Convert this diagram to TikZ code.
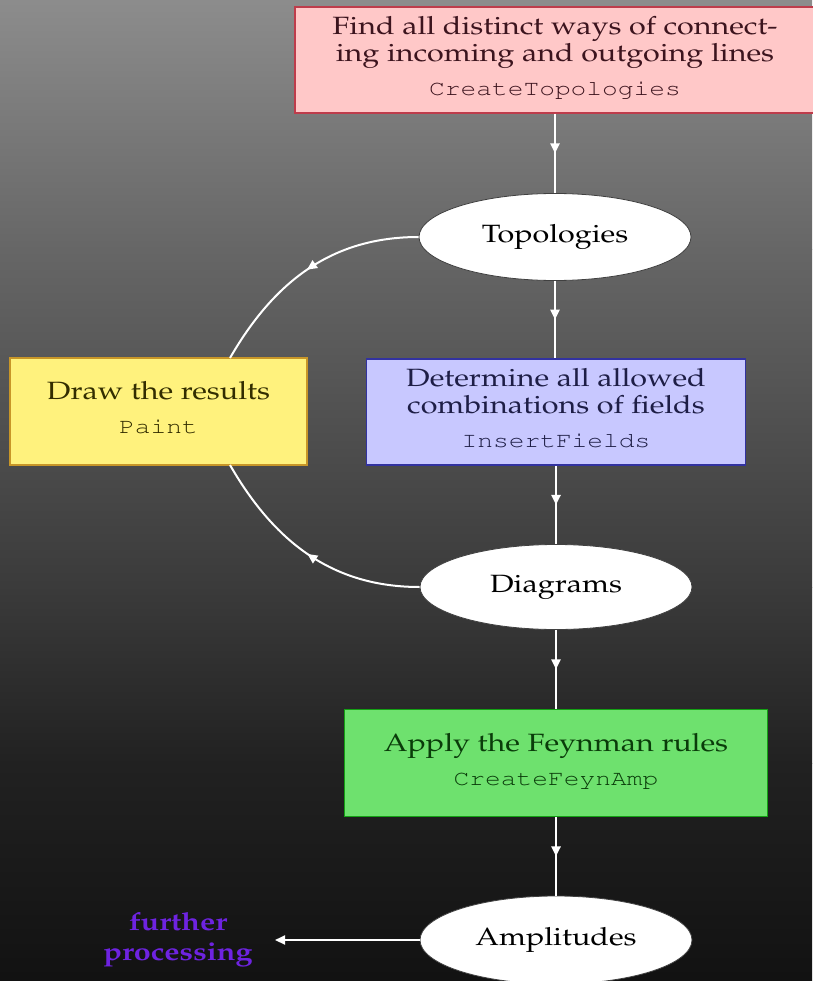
\documentclass[tikz,border=0pt]{standalone}
\usepackage[T1]{fontenc}
\renewcommand{\rmdefault}{ppl}
\renewcommand{\ttdefault}{pcr}
\usepackage{graphicx}
\usetikzlibrary{arrows.meta,decorations.markings,shapes.geometric}
\definecolor{pinkfill}{RGB}{255,200,200}
\definecolor{pinkdraw}{RGB}{190,60,75}
\definecolor{pinktext}{RGB}{60,20,30}
\definecolor{bluefill}{RGB}{200,200,255}
\definecolor{bluedraw}{RGB}{50,50,160}
\definecolor{bluetext}{RGB}{30,30,70}
\definecolor{yellowfill}{RGB}{255,242,125}
\definecolor{yellowdraw}{RGB}{200,150,40}
\definecolor{yellowtext}{RGB}{50,45,0}
\definecolor{greenfill}{RGB}{110,225,110}
\definecolor{greendraw}{RGB}{20,160,20}
\definecolor{greentext}{RGB}{10,60,10}
\definecolor{furthercol}{RGB}{110,35,225}
\newcommand{\boxtext}[2]{\scalebox{1.22}[1]{\begin{tabular}{@{}c@{}}#1\\[7pt]{\fontsize{21.5}{24}\selectfont\ttfamily #2}\end{tabular}}}
\newcommand{\elltext}[1]{\scalebox{1.22}[1]{#1}}
\begin{document}
\begin{tikzpicture}[x=1pt,y=1pt,
  stepbox/.style={rectangle, inner sep=0pt, line width=1.5pt, font=\fontsize{25}{27}\selectfont},
  ellnode/.style={ellipse, fill=white, draw=black!75, line width=0.8pt, inner sep=0pt,
    minimum width=272pt, minimum height=87pt, font=\fontsize{25}{27}\selectfont},
  midarrow/.style={postaction={decorate}, decoration={markings,
    mark=at position 0.5 with {\arrow[white]{Triangle[length=10pt,width=9pt]}}}},
  flow/.style={draw=white, line width=2.5pt, midarrow},
  loopflow/.style={draw=white, line width=2pt, midarrow},
]
\useasboundingbox (0,0) rectangle (812,-981);
% background gradient
\shade[top color=black!45, bottom color=black!60] (0,0) rectangle (812,-250);
\shade[top color=black!60, bottom color=black!77] (0,-250) rectangle (812,-587);
\shade[top color=black!77, bottom color=black!87] (0,-587) rectangle (812,-763);
\shade[top color=black!87, bottom color=black!93] (0,-763) rectangle (812,-981);

% nodes
\node[stepbox, fill=pinkfill, draw=pinkdraw, text=pinktext, minimum width=520pt, minimum height=106pt]
  (ct) at (555,-60) {\boxtext{Find all distinct ways of connect-\\ing incoming and outgoing lines}{CreateTopologies}};
\node[ellnode] (topo) at (555,-237) {\elltext{Topologies}};
\node[stepbox, fill=bluefill, draw=bluedraw, text=bluetext, minimum width=379pt, minimum height=106pt]
  (ins) at (556,-412) {\boxtext{Determine all allowed\\combinations of fields}{InsertFields}};
\node[ellnode, minimum height=85pt] (diag) at (556,-587) {\elltext{Diagrams}};
\node[stepbox, fill=greenfill, draw=greendraw, text=greentext, minimum width=423pt, minimum height=107pt]
  (feyn) at (556,-763) {\boxtext{Apply the Feynman rules}{CreateFeynAmp}};
\node[ellnode, minimum height=88pt] (amp) at (556,-940) {\elltext{Amplitudes}};
\node[stepbox, fill=yellowfill, draw=yellowdraw, text=yellowtext, minimum width=297pt, minimum height=107pt]
  (paint) at (158.5,-411.5) {\boxtext{Draw the results}{Paint}};
\node[font=\fontsize{25}{30}\selectfont\bfseries, text=furthercol, align=center, inner sep=0pt]
  (fp) at (178,-940) {\elltext{further}\\\elltext{processing}};

\coordinate (ptop) at (230,-358);
\coordinate (pbot) at (230,-465);
\coordinate (fpend) at (275,-940);

% connectors
\draw[flow] (ct.south -| topo.north) -- (topo.north);
\draw[flow] (topo.south) -- (ins.north -| topo.south);
\draw[flow] (ins.south) -- (diag.north);
\draw[flow] (diag.south) -- (feyn.north);
\draw[flow] (feyn.south) -- (amp.north);
\draw[loopflow] (topo.west) to[out=180,in=60] (ptop);
\draw[loopflow] (diag.west) to[out=180,in=-60] (pbot);
\draw[draw=white, line width=2pt, -{Triangle[length=10pt,width=9pt]}] (amp.west) -- (fpend);
\end{tikzpicture}
\end{document}
